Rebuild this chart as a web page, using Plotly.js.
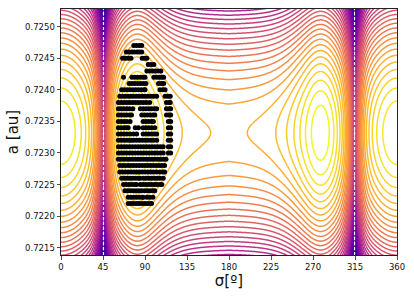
<!DOCTYPE html>
<html><head><meta charset="utf-8">
<script src="https://cdn.plot.ly/plotly-3.0.1.min.js"></script>
<style>html,body{margin:0;padding:0;background:#fff}#plot{width:414px;height:296px}</style>
</head><body><div id="plot"></div>
<script>
// ---------------- axis data ----------------
const xTickVals = [0, 45, 90, 135, 180, 225, 270, 315, 360];
const yTickVals = [0.7215, 0.7220, 0.7225, 0.7230, 0.7235, 0.7240, 0.7245, 0.7250];
const yTickText = ['0.7215', '0.7220', '0.7225', '0.7230', '0.7235', '0.7240', '0.7245', '0.7250'];
const xRange = [0, 360];
const yRange = [0.721384, 0.72528];
const xTitle = 'σ[º]';
const yTitle = 'a [au]';

// ---------------- Hamiltonian model parameters ----------------
const aRes = 0.72332;        // resonant semi-major axis (centre of the islands)
const sigmaSing = 45.5;      // singular angle (dashed white lines at ±sigmaSing)
const kSing = 1.257;         // strength of the singular term
const singSoft = 0.065;      // finite resolution at the singular line
const islandCentre = 81;     // libration centres at ±81°
const islandAmp = 10, islandWidth = 35;
const zeroAmp = 9, zeroWidth = 49;
const cos1Coef = 0.625, cos2Coef = 0.499;
const kinetic = 0.0399;      // per (1e-4 au)^2
const nLevels = 35, levelStep = 1, topGap = 0.756;

// ---------------- trajectory dots (rows of constant a) ----------------
const dotRowsA = [0.7247, 0.7246, 0.7245, 0.7244, 0.7243, 0.7242, 0.7241, 0.7240, 0.7239, 0.7238,
                  0.7237, 0.7236, 0.7235, 0.7234, 0.7233, 0.7232, 0.7231, 0.7230, 0.7229, 0.7228,
                  0.7227, 0.7226, 0.7225, 0.7224, 0.7223, 0.7222];
const dotRowsSigma = [
  [78, 81, 84, 86.5],
  [70, 73, 76, 78.5, 81.5, 84, 86.5],
  [66, 69, 72, 75, 87, 90, 92],
  [93.5, 96.5, 99.5],
  [92, 95, 98, 101, 104, 107],
  [67, 76, 79, 82, 85, 88, 90, 99.5, 102.5, 105.5, 108, 110],
  [73, 76, 79, 82, 85, 88, 91, 104.5, 107.5, 110],
  [65, 68, 71, 74, 77, 80, 83, 86, 89, 90, 106, 109, 111.5],
  [63, 66, 69, 72, 75, 78, 81, 84, 87, 90, 93, 96, 99, 102.5, 111.5, 114.5, 117],
  [61.5, 64.5, 67.5, 70.5, 73.5, 76.5, 79.5, 82.5, 85.5, 88.5, 91.5, 95, 113, 116, 117],
  [61.5, 64.5, 67.5, 70.5, 73.5, 77, 85, 88, 91, 94, 97, 100, 102.5, 113, 116, 117.5],
  [61.5, 64.5, 67.5, 70.5, 73.5, 75.5, 86.5, 89.5, 92.5, 95.5, 98.5, 100.5, 113, 116, 117.5],
  [61.5, 64.5, 67.5, 70.5, 74, 88, 91, 94, 97, 99, 115, 117.5],
  [61.5, 64.5, 67.5, 70, 72, 79.5, 83, 88, 91, 94, 97, 100.5, 115, 117.5],
  [61.5, 64.5, 67.5, 70.5, 74, 77.5, 81, 88, 91, 94, 97, 100, 102.5, 115, 117.5],
  [61.5, 64.5, 67.5, 70.5, 73.5, 75.5, 78, 81, 84, 87, 90, 93, 96, 99, 102.5, 115, 117.5],
  [61.5, 64.5, 67.5, 70.5, 73.5, 76.5, 79.5, 82.5, 85.5, 88.5, 91.5, 94.5, 97.5, 100.5, 103.5, 106.5, 109.5, 115, 117.5],
  [61.5, 64.5, 67.5, 70.5, 73.5, 76.5, 79.5, 82.5, 85.5, 88.5, 91.5, 94.5, 97.5, 100.5, 103.5, 106.5, 109.5, 115, 117.5],
  [61.5, 64.5, 67.5, 70.5, 73.5, 76.5, 79.5, 82.5, 85.5, 88.5, 91.5, 94.5, 97.5, 100.5, 103.5, 106.5, 109.5, 112.5],
  [63, 66, 69, 72, 75, 78, 81, 84, 87, 90, 93, 96, 99, 102, 105, 108, 111],
  [63, 66, 69, 72, 75, 78, 81, 84, 87, 90, 93, 96, 99, 102.5, 106, 109, 111],
  [65, 68, 71, 74, 77, 80, 83, 84.5, 88, 91, 94, 97, 100, 103, 106, 109.5],
  [67, 70, 73, 76, 79, 81, 85, 88, 91, 94, 97, 100, 103, 106, 108],
  [68.5, 71.5, 74.5, 77.5, 80.5, 83.5, 86.5, 89.5, 92.5, 95.5, 98.5, 100.5],
  [72, 75, 78, 81, 84, 87, 88, 92, 95, 98.5],
  [72, 75, 78, 81, 84, 87, 90, 93, 96, 97]
];

// plasma colormap stops
const plasma = [
  [0.0, '#0d0887'], [0.1, '#41049d'], [0.2, '#6a00a8'], [0.3, '#8f0da4'],
  [0.4, '#b12a90'], [0.5, '#cc4778'], [0.6, '#e16462'], [0.7, '#f2844b'],
  [0.8, '#fca636'], [0.9, '#fcce25'], [1.0, '#f0f921']
];

// ---------------- model ----------------
function wrap(x) { return ((x + 180) % 360 + 360) % 360 - 180; }
function chordInv(th) {
  const c = 2 * Math.sin(th * Math.PI / 360);
  return 1 / Math.sqrt(c * c + singSoft * singSoft);
}
function lor(x, w) { x = wrap(x); return w * w / (x * x + w * w); }
function potential(s) {
  const r = s * Math.PI / 180;
  return -kSing * (chordInv(s - sigmaSing) + chordInv(s + sigmaSing))
    + islandAmp * (lor(s - islandCentre, islandWidth) + lor(s + islandCentre, islandWidth))
    + zeroAmp * lor(s, zeroWidth)
    - cos1Coef * Math.cos(r) + cos2Coef * Math.cos(2 * r);
}

const xs = [];
for (let v = 0; v <= 360.0001; v += 0.25) xs.push(v);
const ys = [];
for (let v = 0.72130; v <= 0.72536; v += 0.00003) ys.push(v);
const pot = xs.map(potential);
const z = ys.map(y => { const d = (y - aRes) * 1e4; return pot.map(p => p - kinetic * d * d); });

let gMax = -Infinity;
xs.forEach((s, i) => { if (s > 60 && s < 300 && pot[i] > gMax) gMax = pot[i]; });
const levelTop = gMax - topGap;
const levelStart = levelTop - (nLevels - 1) * levelStep;

const dotX = [], dotY = [];
dotRowsA.forEach((a, i) => dotRowsSigma[i].forEach(s => { dotX.push(s); dotY.push(a); }));

const traces = [
  {
    type: 'contour', x: xs, y: ys, z: z,
    autocontour: false,
    contours: { coloring: 'lines', start: levelStart, end: levelTop + 0.001, size: levelStep, showlabels: false },
    colorscale: plasma, showscale: false,
    line: { width: 1.5, smoothing: 0 },
    hoverinfo: 'skip'
  },
  {
    type: 'scatter', mode: 'markers', x: dotX, y: dotY,
    marker: { color: '#000', size: 5 },
    hoverinfo: 'skip'
  }
];

const font = 'DejaVu Sans, sans-serif';
const layout = {
  width: 414, height: 296,
  margin: { l: 61, r: 17, t: 9, b: 41 },
  paper_bgcolor: '#fff', plot_bgcolor: '#fff',
  showlegend: false,
  xaxis: {
    range: xRange, tickvals: xTickVals, ticks: 'outside', ticklen: 3.5, tickwidth: 0.8, tickcolor: '#222',
    showline: true, mirror: true, linecolor: '#222', linewidth: 1, showgrid: false, zeroline: false,
    tickfont: { family: font, size: 8.5, color: '#111' },
    title: { text: xTitle, font: { family: font, size: 15, color: '#111' }, standoff: 2 }
  },
  yaxis: {
    range: yRange, tickvals: yTickVals, ticktext: yTickText, ticks: 'outside', ticklen: 3.5, tickwidth: 0.8, tickcolor: '#222',
    showline: true, mirror: true, linecolor: '#222', linewidth: 1, showgrid: false, zeroline: false,
    tickfont: { family: font, size: 8.5, color: '#111' },
    title: { text: yTitle, font: { family: font, size: 15, color: '#111' }, standoff: 2 }
  },
  shapes: [sigmaSing, 360 - sigmaSing].map(s => ({
    type: 'line', xref: 'x', yref: 'paper', x0: s, x1: s, y0: 0, y1: 1,
    line: { color: '#fff', width: 1.2, dash: '3px,2px' }, layer: 'above'
  }))
};

Plotly.newPlot('plot', traces, layout, { staticPlot: true, displayModeBar: false });
</script>
</body></html>
